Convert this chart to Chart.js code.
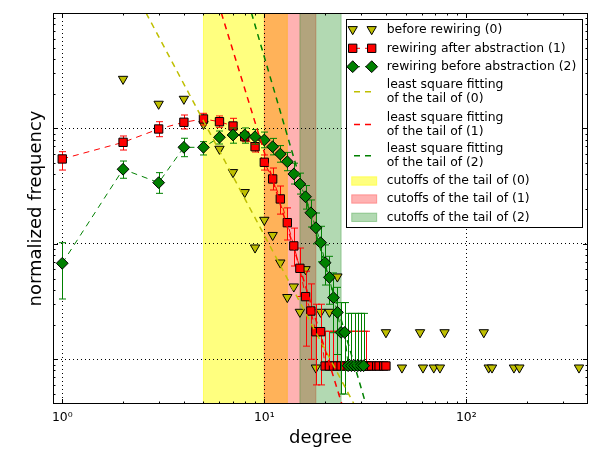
<!DOCTYPE html>
<html>
<head>
<meta charset="utf-8">
<script src="https://cdn.jsdelivr.net/npm/chart.js@4.4.0/dist/chart.umd.min.js"></script>
<style>
body { margin: 0; background: #fff; }
</style>
</head>
<body>
<canvas id="_degree_chart" width="600" height="450"></canvas>
<script>
// before rewiring (0)
const before_x = [2, 3, 4, 5, 6, 7, 8, 9, 10, 11, 12, 13, 14, 15, 16, 18, 19, 21, 23, 40, 48, 59, 61, 69, 74, 78, 122, 129, 134, 172, 183, 361];
const before_y = [0.268, 0.163, 0.180, 0.109, 0.0664, 0.0417, 0.0280, 0.00927, 0.0161, 0.0119, 0.00687, 0.00345, 0.00426, 0.00257, 0.00602, 0.000846, 0.00257, 0.00257, 0.0052, 0.00171, 0.000846, 0.00171, 0.000846, 0.000846, 0.000846, 0.00171, 0.00171, 0.000846, 0.000846, 0.000846, 0.000846, 0.000846];

// rewiring after abstraction (1)
const after_x = [1, 2, 3, 4, 5, 6, 7, 8, 9, 10, 11, 12, 13, 14, 15, 16, 17, 18, 19, 20, 21, 22, 23, 24, 25, 26, 27, 28, 29, 30, 31, 32, 33, 34, 36, 37, 39, 40];
const after_y = [0.0544, 0.0758, 0.0989, 0.1131, 0.1208, 0.1144, 0.105, 0.0848, 0.0695, 0.0509, 0.0365, 0.0245, 0.01526, 0.0096, 0.00614, 0.00349, 0.00262, 0.001734, 0.001734,
    0.000875, 0.000875, 0.000875, 0.000875, 0.000875, 0.000875, 0.000875, 0.000875, 0.000875, 0.000875, 0.000875, 0.000875, 0.000875, 0.000875, 0.000875, 0.000875, 0.000875, 0.000875, 0.000875];
const after_lo = [0.0436, 0.065, 0.0848, 0.0989, 0.1071, 0.1023, 0.0907, 0.0768, 0.0625, 0.0436, 0.0293, 0.0181, 0.0108, 0.00643, 0.0035, 0.0013, 0.0010, 0.0006, 0.0006,
    null, null, null, null, null, null, null, null, null, null, null, null, null, null, null, null, null, null, null];
const after_hi = [0.0629, 0.086, 0.1144, 0.1307, 0.1352, 0.1282, 0.1224, 0.0937, 0.0794, 0.0589, 0.0454, 0.0317, 0.0205, 0.0137, 0.0092, 0.0058, 0.0045, 0.0030, 0.0030,
    0.00175, 0.00175, 0.00175, 0.00175, 0.00175, 0.00175, 0.00175, 0.00175, 0.00175, 0.00175, 0.00175, 0.00175, 0.00175, null, null, null, null, null, null];

// rewiring before abstraction (2)
const rewire_x = [1, 2, 3, 4, 5, 6, 7, 8, 9, 10, 11, 12, 13, 14, 15, 16, 17, 18, 19, 20, 21, 22, 23, 24, 25, 26, 27, 28, 29, 30, 31];
const rewire_y = [0.00679, 0.0443, 0.0339, 0.0686, 0.0686, 0.0838, 0.0877, 0.0877, 0.0848, 0.0794, 0.0695, 0.060, 0.0515, 0.0403, 0.033, 0.0256, 0.0186, 0.0138, 0.01024, 0.00687, 0.00513, 0.00342, 0.00255, 0.00171, 0.00171,
    0.00088, 0.00088, 0.00088, 0.00088, 0.00088, 0.00088];
const rewire_lo = [0.00333, 0.037, 0.0274, 0.0569, 0.0589, 0.0733, 0.0745, 0.0745, 0.073, 0.068, 0.059, 0.051, 0.043, 0.033, 0.027, 0.020, 0.014, 0.0100, 0.0070, 0.0044, 0.0030, 0.0017, 0.0011, 0.0005, 0.0005,
    null, null, null, null, null, null];
const rewire_hi = [0.01024, 0.0522, 0.0414, 0.0822, 0.0768, 0.095, 0.101, 0.101, 0.098, 0.093, 0.082, 0.071, 0.062, 0.050, 0.041, 0.032, 0.024, 0.0185, 0.0142, 0.0098, 0.0078, 0.0056, 0.0042, 0.0031, 0.0031,
    0.0025, 0.0025, 0.0025, 0.0025, 0.0025, 0.0025];

// least square fits of the tails (end points of each straight line)
const fit0_x = [2.60, 27.8];
const fit0_y = [1.0, 0.00041];
const fit1_x = [6.13, 24.2];
const fit1_y = [1.0, 0.00041];
const fit2_x = [8.64, 31.8];
const fit2_y = [1.0, 0.00041];

// tail cutoffs
const cutoff_0 = [5, 13];
const cutoff_1 = [10, 18];
const cutoff_2 = [15, 24];
const cutoff_labels = ['cutoffs of the tail of (0)', 'cutoffs of the tail of (1)', 'cutoffs of the tail of (2)'];

const x_ticks = [1, 10, 100];
const y_ticks = [0.001, 0.01, 0.1];

const FONT = 'DejaVu Sans';
const c_yellow = '#bfbf00';
const c_red = '#ff0000';
const c_green = '#008000';
const span_colors = ['rgba(255, 255, 0, 0.5)', 'rgba(255, 0, 0, 0.3)', 'rgba(0, 128, 0, 0.3)'];
const sup = {'0': '\u2070', '1': '\u00b9', '2': '\u00b2', '3': '\u00b3', '-': '\u207b'};

function _points(xs, ys) {
    let pts = [];
    for (var i in xs) {
        pts.push({x: xs[i], y: ys[i]});
    }
    return pts;
}

// axvspan-like bands, under the grid
const cutoffSpans = {
    id: 'cutoffSpans',
    beforeDraw(chart) {
        const {ctx, chartArea: a, scales: {x}} = chart;
        ctx.save();
        [cutoff_0, cutoff_1, cutoff_2].forEach((c, i) => {
            const x0 = x.getPixelForValue(c[0]);
            const x1 = x.getPixelForValue(c[1]);
            ctx.fillStyle = span_colors[i];
            ctx.fillRect(x0, a.top, x1 - x0, a.height);
            ctx.strokeStyle = span_colors[i];
            ctx.lineWidth = 1;
            ctx.beginPath();
            ctx.moveTo(x0, a.top); ctx.lineTo(x0, a.bottom);
            ctx.moveTo(x1, a.top); ctx.lineTo(x1, a.bottom);
            ctx.stroke();
        });
        ctx.restore();
    }
};

// vertical error bars with caps, drawn just below their own markers
const errorBars = {
    id: 'errorBars',
    beforeDatasetDraw(chart, args) {
        const ds = chart.data.datasets[args.index];
        if (!ds.err_lo) return;
        const {ctx, chartArea: a, scales: {x, y}} = chart;
        ctx.save();
        ctx.beginPath();
        ctx.rect(a.left, a.top, a.width, a.height);
        ctx.clip();
        ctx.strokeStyle = ds.err_color;
        ctx.lineWidth = 1;
        ctx.beginPath();
        ds.data.forEach((p, i) => {
            const lo = ds.err_lo[i], hi = ds.err_hi[i];
            if (lo == null && hi == null) return;
            const px = Math.round(x.getPixelForValue(p.x)) + 0.5;
            const top = y.getPixelForValue(hi == null ? p.y : hi);
            const bot = y.getPixelForValue(lo == null ? p.y : lo);
            ctx.moveTo(px, top); ctx.lineTo(px, bot);
            if (hi != null) { ctx.moveTo(px - 3.5, top); ctx.lineTo(px + 3.5, top); }
            if (lo != null) { ctx.moveTo(px - 3.5, bot); ctx.lineTo(px + 3.5, bot); }
        });
        ctx.stroke();
        ctx.restore();
    }
};

// frame with inward major/minor ticks on all four sides
const frameTicks = {
    id: 'frameTicks',
    afterDatasetsDraw(chart) {
        const {ctx, chartArea: a, scales: {x, y}} = chart;
        ctx.save();
        ctx.strokeStyle = '#000';
        ctx.lineWidth = 1;
        ctx.beginPath();
        for (let e = -5; e <= 3; e++) {
            for (let k = 1; k <= 9; k++) {
                const v = k * Math.pow(10, e);
                const len = k === 1 ? 5 : 2.5;
                if (v > x.min && v < x.max) {
                    const px = Math.round(x.getPixelForValue(v)) + 0.5;
                    ctx.moveTo(px, a.bottom); ctx.lineTo(px, a.bottom - len);
                    ctx.moveTo(px, a.top); ctx.lineTo(px, a.top + len);
                }
                if (v > y.min && v < y.max) {
                    const py = Math.round(y.getPixelForValue(v)) + 0.5;
                    ctx.moveTo(a.left, py); ctx.lineTo(a.left + len, py);
                    ctx.moveTo(a.right, py); ctx.lineTo(a.right - len, py);
                }
            }
        }
        ctx.stroke();
        ctx.strokeRect(a.left + 0.5, a.top + 0.5, a.width - 1, a.height - 1);
        ctx.restore();
    }
};

// matplotlib style legend box in the upper right corner
const boxLegend = {
    id: 'boxLegend',
    afterDraw(chart) {
        const {ctx, chartArea: a} = chart;
        const w = 236, h = 208;
        const L = a.right - 6 - w, T = a.top + 6;
        const rows = [10.3, 29.3, 47.7, 72.7, 105.5, 136.8, 162, 180, 198.3];
        ctx.save();
        ctx.fillStyle = '#fff';
        ctx.fillRect(L, T, w, h);
        ctx.strokeStyle = '#000';
        ctx.lineWidth = 1;
        ctx.strokeRect(Math.round(L) + 0.5, Math.round(T) + 0.5, w, h);
        ctx.font = '12.4px "' + FONT + '"';
        ctx.textBaseline = 'middle';
        ctx.textAlign = 'left';
        const datasets = chart.data.datasets;
        for (let i = 0; i < 6; i++) {
            const ds = datasets[i];
            const cy = T + rows[i];
            if (ds.showLine) {
                ctx.save();
                ctx.strokeStyle = ds.borderColor;
                ctx.lineWidth = ds.borderWidth;
                ctx.setLineDash(ds.borderDash || []);
                ctx.beginPath();
                ctx.moveTo(L + 8, cy); ctx.lineTo(L + 26, cy);
                ctx.stroke();
                ctx.restore();
            }
            if (ds.pointRadius > 0) {
                ctx.fillStyle = ds.pointBackgroundColor;
                ctx.strokeStyle = ds.pointBorderColor;
                ctx.lineWidth = ds.pointBorderWidth;
                [L + 6.7, L + 25.7].forEach(mx => {
                    Chart.helpers.drawPoint(ctx, {pointStyle: ds.pointStyle, rotation: ds.pointRotation || 0, radius: ds.pointRadius, borderWidth: ds.pointBorderWidth}, mx, cy);
                });
            }
            ctx.fillStyle = '#000';
            const lines = [].concat(ds.label);
            if (lines.length === 1) {
                ctx.fillText(lines[0], L + 40.7, cy);
            } else {
                ctx.fillText(lines[0], L + 40.7, cy - 7.2);
                ctx.fillText(lines[1], L + 40.7, cy + 7.2);
            }
        }
        for (let j = 0; j < 3; j++) {
            const cy = T + rows[6 + j];
            ctx.fillStyle = span_colors[j];
            ctx.fillRect(L + 5.7, cy - 4.2, 25, 8.4);
            ctx.strokeStyle = span_colors[j];
            ctx.strokeRect(L + 5.7, cy - 4.2, 25, 8.4);
            ctx.fillStyle = '#000';
            ctx.fillText(cutoff_labels[j], L + 40.7, cy);
        }
        ctx.restore();
    }
};

const ctx = document.getElementById('_degree_chart');
const degree_chart = new Chart(ctx, {
    type: 'scatter',
    data: {
        datasets: [
            {
                label: 'before rewiring (0)',
                data: _points(before_x, before_y),
                showLine: false,
                pointStyle: 'triangle',
                pointRotation: 180,
                pointRadius: 5.4,
                pointBackgroundColor: c_yellow,
                pointBorderColor: '#000',
                pointBorderWidth: 1,
                order: 5
            },
            {
                label: 'rewiring after abstraction (1)',
                data: _points(after_x, after_y),
                showLine: true,
                borderColor: c_red,
                borderWidth: 1,
                borderDash: [6, 5],
                pointStyle: 'rect',
                pointRadius: 5.9,
                pointBackgroundColor: c_red,
                pointBorderColor: '#000',
                pointBorderWidth: 1,
                err_lo: after_lo,
                err_hi: after_hi,
                err_color: c_red,
                order: 4
            },
            {
                label: 'rewiring before abstraction (2)',
                data: _points(rewire_x, rewire_y),
                showLine: true,
                borderColor: c_green,
                borderWidth: 1,
                borderDash: [6, 5],
                pointStyle: 'rectRot',
                pointRadius: 5.9,
                pointBackgroundColor: c_green,
                pointBorderColor: '#000',
                pointBorderWidth: 1,
                err_lo: rewire_lo,
                err_hi: rewire_hi,
                err_color: c_green,
                order: 3
            },
            {
                label: ['least square fitting', 'of the tail of (0)'],
                data: _points(fit0_x, fit0_y),
                showLine: true,
                borderColor: c_yellow,
                borderWidth: 1.5,
                borderDash: [6, 5],
                pointRadius: 0,
                order: 2
            },
            {
                label: ['least square fitting', 'of the tail of (1)'],
                data: _points(fit1_x, fit1_y),
                showLine: true,
                borderColor: c_red,
                borderWidth: 1.5,
                borderDash: [6, 5],
                pointRadius: 0,
                order: 1
            },
            {
                label: ['least square fitting', 'of the tail of (2)'],
                data: _points(fit2_x, fit2_y),
                showLine: true,
                borderColor: c_green,
                borderWidth: 1.5,
                borderDash: [6, 5],
                pointRadius: 0,
                order: 0
            }
        ]
    },
    options: {
        responsive: false,
        animation: false,
        events: [],
        layout: {
            padding: {top: 13, right: 12, left: 0, bottom: 0}
        },
        scales: {
            x: {
                type: 'logarithmic',
                min: 0.9,
                max: 400,
                afterBuildTicks: axis => { axis.ticks = x_ticks.map(v => ({value: v})); },
                afterFit: axis => { axis.height = 46; },
                grid: {
                    color: '#000',
                    lineWidth: 1,
                    drawTicks: false
                },
                border: {
                    display: false,
                    dash: [1, 3]
                },
                ticks: {
                    color: '#000',
                    padding: 6,
                    maxRotation: 0,
                    autoSkip: false,
                    font: {family: FONT, size: 12.4},
                    callback: v => '10' + String(Math.round(Math.log10(v))).split('').map(c => sup[c]).join('')
                },
                title: {
                    display: true,
                    text: 'degree',
                    color: '#000',
                    font: {family: FONT, size: 18},
                    padding: {top: 0, bottom: 1}
                }
            },
            y: {
                type: 'logarithmic',
                min: 0.00041,
                max: 1.0,
                afterBuildTicks: axis => { axis.ticks = y_ticks.map(v => ({value: v})); },
                afterFit: axis => { axis.width = 53; },
                grid: {
                    color: '#000',
                    lineWidth: 1,
                    drawTicks: false
                },
                border: {
                    display: false,
                    dash: [1, 3]
                },
                ticks: {
                    display: false
                },
                title: {
                    display: true,
                    text: 'normalized frequency',
                    color: '#000',
                    font: {family: FONT, size: 18},
                    padding: {top: 26, bottom: 0}
                }
            }
        },
        plugins: {
            legend: {display: false},
            tooltip: {enabled: false}
        }
    },
    plugins: [cutoffSpans, errorBars, frameTicks, boxLegend]
});
</script>
</body>
</html>
